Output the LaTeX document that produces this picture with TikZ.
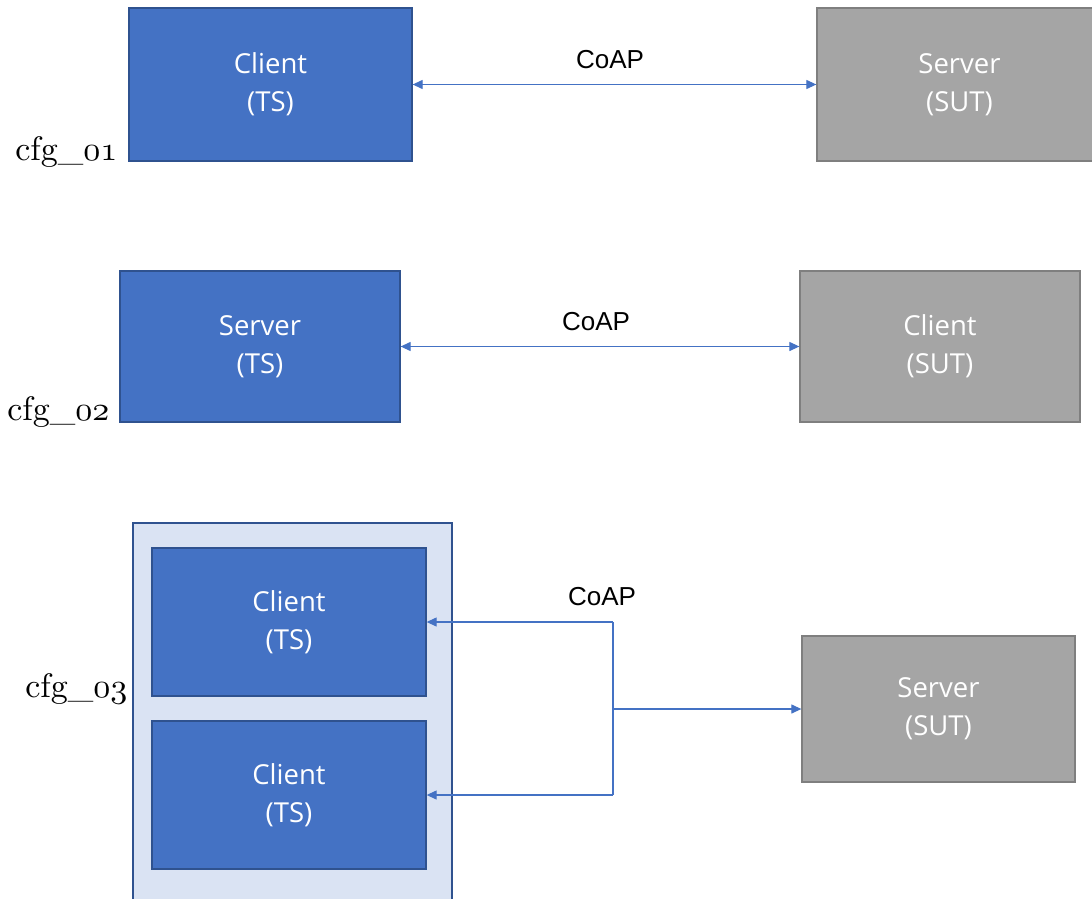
\documentclass[tikz,border=0pt]{standalone}
\usepackage{fontspec}
\usetikzlibrary{arrows.meta}
\newfontfamily\boxfont{Open Sans}
\newfontfamily\arialfont{Liberation Sans}
\newcommand{\myold}[1]{{\fontencoding{OML}\fontfamily{cmm}\fontseries{m}\fontshape{it}\selectfont #1}}
\definecolor{tsblue}{HTML}{4472C4}
\definecolor{tsedge}{HTML}{2F528F}
\definecolor{sutgray}{HTML}{A5A5A5}
\definecolor{sutedge}{HTML}{7F7F7F}
\definecolor{grpfill}{HTML}{DAE3F3}
\tikzset{
  ts/.style={draw=tsedge, fill=tsblue, line width=1.3pt, text=white, align=center,
    font=\boxfont\fontsize{27.5}{38}\selectfont, inner sep=0pt},
  sut/.style={draw=sutedge, fill=sutgray, line width=1.3pt, text=white, align=center,
    font=\boxfont\fontsize{27.5}{38}\selectfont, inner sep=0pt},
  grp/.style={draw=tsedge, fill=grpfill, line width=1.3pt, inner sep=0pt},
  proto/.style={font=\arialfont\fontsize{26}{30}\selectfont, text=black, inner sep=0pt},
  cfg/.style={font=\fontsize{10}{12}\selectfont, scale=3.4, anchor=base east, inner sep=0pt},
  link/.style={draw=tsblue, line width=1.2pt},
  tip/.style={-{Triangle[length=10pt,width=9pt]}},
  tips/.style={{Triangle[length=10pt,width=9pt]}-{Triangle[length=10pt,width=9pt]}},
}
\begin{document}
\begin{tikzpicture}[x=1pt,y=-1pt]
\clip (0,0) rectangle (1092,899);
\fill[white] (0,0) rectangle (1092,899);
% cfg_01
\node[ts, minimum width=283pt, minimum height=153pt] (c01) at (270.5,84.5) {Client\\(TS)};
\node[sut, minimum width=285pt, minimum height=153pt] (s01) at (959.5,84.5) {Server\\(SUT)};
\draw[link, tips] (c01.east) -- (s01.west);
\node[proto] (p01) at (610,60) {CoAP};
\node[cfg] (l01) at (118,160) {cfg\_\myold{01}};
% cfg_02
\node[ts, minimum width=280pt, minimum height=151pt] (s02) at (260,346.5) {Server\\(TS)};
\node[sut, minimum width=280pt, minimum height=151pt] (c02) at (940,346.5) {Client\\(SUT)};
\draw[link, tips] (s02.east) -- (c02.west);
\node[proto] (p02) at (596,322) {CoAP};
\node[cfg] (l02) at (110,420) {cfg\_\myold{02}};
% cfg_03
\node[grp, minimum width=319pt, minimum height=390pt] (g03) at (292.5,718) {};
\node[ts, minimum width=274pt, minimum height=148pt] (c03a) at (289,622) {Client\\(TS)};
\node[ts, minimum width=274pt, minimum height=148pt] (c03b) at (289,795) {Client\\(TS)};
\node[sut, minimum width=273pt, minimum height=146pt] (s03) at (938.5,709) {Server\\(SUT)};
\coordinate (jt) at (613,622);
\coordinate (jb) at (613,795);
\coordinate (jm) at (613,709);
\draw[link] (jt) -- (jb);
\draw[link, tip] (jt) -- (c03a.east);
\draw[link, tip] (jb) -- (c03b.east);
\draw[link, tip] (jm) -- (s03.west);
\node[proto] (p03) at (602,597) {CoAP};
\node[cfg] (l03) at (128,697) {cfg\_\myold{03}};
\end{tikzpicture}
\end{document}
